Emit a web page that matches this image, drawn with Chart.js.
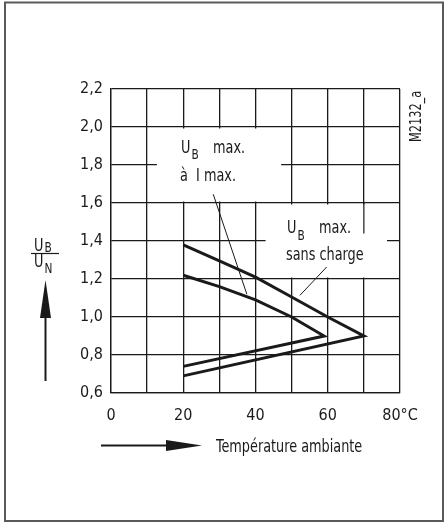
<!DOCTYPE html>
<html>
<head>
<meta charset="utf-8">
<script src="https://cdn.jsdelivr.net/npm/chart.js@4"></script>
<style>
  html, body { margin: 0; padding: 0; background: #fff; }
  canvas { display: block; }
</style>
</head>
<body>
<canvas id="chart" width="444" height="522"></canvas>
<script>
// UB/UN vs ambient temperature
const FONT = "'DejaVu Sans Condensed', 'DejaVu Sans', sans-serif";
const INK = "#1a1a1a";
const SQUEEZE = 0.84; // the original uses a condensed face, narrower than anything installed

// series: U_B max sans charge (outer) and U_B max à I max (inner)
const sansChargeTemp = [20, 30, 40, 50, 60, 70, 20];
const sansChargeRatio = [1.38, 1.295, 1.21, 1.105, 1.0, 0.9, 0.69];
const iMaxTemp = [20, 30, 40, 50, 59, 20];
const iMaxRatio = [1.22, 1.16, 1.09, 1.0, 0.9, 0.74];

// leader lines from the labels to the curves
const leaderIMaxTemp = [28.3, 37.6];
const leaderIMaxRatio = [1.646, 1.12];
const leaderSansTemp = [59.7, 52.3];
const leaderSansRatio = [1.263, 1.114];

// tick labels
const xTickLabels = { 0: "0", 20: "20", 40: "40", 60: "60", 80: "80°C" };
const yTicks = [0.6, 0.8, 1.0, 1.2, 1.4, 1.6, 1.8, 2.0, 2.2];

const pts = (xs, ys) => xs.map((x, i) => ({ x, y: ys[i] }));

function lineSet(xs, ys, width) {
  return {
    data: pts(xs, ys),
    showLine: true,
    borderColor: INK,
    borderWidth: width,
    pointRadius: 0,
    fill: false,
    tension: 0,
    borderJoinStyle: "miter"
  };
}

// white boxes behind the two labels (cut the grid), then redraw the short grid stub
const labelBoxes = {
  id: "labelBoxes",
  beforeDatasetsDraw(chart) {
    const { ctx, scales: { x, y } } = chart;
    ctx.save();
    ctx.fillStyle = "#fff";
    const box = (x0, x1, y0, y1) => {
      const l = x.getPixelForValue(x0), r = x.getPixelForValue(x1);
      const t = y.getPixelForValue(y1) + 1.5, b = y.getPixelForValue(y0) - 1.5;
      ctx.fillRect(l, t, r - l, b - t);
    };
    box(12.7, 47.1, 1.6, 2.0);
    box(42.8, 76.4, 1.2, 1.6);
    ctx.strokeStyle = INK;
    ctx.lineWidth = 1.2;
    ctx.beginPath();
    const gx = x.getPixelForValue(70);
    ctx.moveTo(gx, y.getPixelForValue(1.6));
    ctx.lineTo(gx, y.getPixelForValue(1.44));
    ctx.stroke();
    ctx.restore();
  }
};

// condensed text helper, returns drawn width
function txt(ctx, s, x, y, size) {
  ctx.save();
  ctx.font = size + "px " + FONT;
  const w = ctx.measureText(s).width * SQUEEZE;
  ctx.translate(x, y);
  ctx.scale(SQUEEZE, 1);
  ctx.fillText(s, 0, 0);
  ctx.restore();
  return w;
}

function subLabel(ctx, x, y, sub, subDrop, rest) {
  const w = txt(ctx, "U", x, y, 17);
  txt(ctx, sub, x + w + 1, y + subDrop, 14);
  if (rest) txt(ctx, rest, x + 32, y, 17);
}

const decorations = {
  id: "decorations",
  afterDraw(chart) {
    const { ctx } = chart;
    ctx.save();
    ctx.fillStyle = INK;
    ctx.strokeStyle = INK;
    ctx.textBaseline = "alphabetic";
    ctx.textAlign = "left";

    // curve labels
    subLabel(ctx, 181, 153, "B", 6, "max.");
    txt(ctx, "à  I max.", 180, 181, 17);
    subLabel(ctx, 287, 233, "B", 7, "max.");
    txt(ctx, "sans charge", 286, 260, 17);

    // drawing reference
    ctx.save();
    ctx.translate(421, 142);
    ctx.rotate(-Math.PI / 2);
    txt(ctx, "M2132_a", 0, 0, 15);
    ctx.restore();

    // y title: U_B / U_N
    subLabel(ctx, 34, 251, "B", 1);
    ctx.lineWidth = 1.2;
    ctx.beginPath();
    ctx.moveTo(31, 253.5);
    ctx.lineTo(59, 253.5);
    ctx.stroke();
    subLabel(ctx, 34, 267, "N", 6);

    // up arrow
    ctx.lineWidth = 2;
    ctx.beginPath();
    ctx.moveTo(45.5, 381);
    ctx.lineTo(45.5, 305);
    ctx.stroke();
    ctx.beginPath();
    ctx.moveTo(45.5, 280);
    ctx.lineTo(51, 318);
    ctx.lineTo(40, 318);
    ctx.closePath();
    ctx.fill();

    // right arrow + x title
    ctx.beginPath();
    ctx.moveTo(101, 445.5);
    ctx.lineTo(175, 445.5);
    ctx.stroke();
    ctx.beginPath();
    ctx.moveTo(202, 445.5);
    ctx.lineTo(166, 440);
    ctx.lineTo(166, 451);
    ctx.closePath();
    ctx.fill();
    txt(ctx, "Température ambiante", 216, 451.5, 17);

    // outer frame
    ctx.strokeStyle = "#5a5a5a";
    ctx.lineWidth = 2;
    ctx.strokeRect(5, 2.5, 438, 518.5);
    ctx.restore();
  }
};

new Chart(document.getElementById("chart"), {
  type: "scatter",
  data: {
    datasets: [
      lineSet(sansChargeTemp, sansChargeRatio, 3),
      lineSet(iMaxTemp, iMaxRatio, 3),
      lineSet(leaderIMaxTemp, leaderIMaxRatio, 1),
      lineSet(leaderSansTemp, leaderSansRatio, 1)
    ]
  },
  options: {
    responsive: false,
    animation: false,
    layout: { padding: { top: 89, right: 44, bottom: 0, left: 0 } },
    plugins: { legend: { display: false }, tooltip: { enabled: false } },
    scales: {
      x: {
        type: "linear",
        min: 0,
        max: 80,
        afterFit: s => { s.height = 129; },
        ticks: {
          stepSize: 10,
          autoSkip: false,
          maxRotation: 0,
          padding: 13,
          color: INK,
          font: { family: FONT, size: 16 },
          callback: v => xTickLabels[v] ?? ""
        },
        grid: { color: INK, lineWidth: 1.3, drawTicks: false },
        border: { color: INK, width: 1.3 }
      },
      y: {
        min: yTicks[0],
        max: yTicks[yTicks.length - 1],
        afterFit: s => { s.width = 111; },
        ticks: {
          stepSize: 0.2,
          padding: 8,
          color: INK,
          font: { family: FONT, size: 16 },
          callback: v => v.toFixed(1).replace(".", ",")
        },
        grid: { color: INK, lineWidth: 1.3, drawTicks: false },
        border: { color: INK, width: 1.3 }
      }
    }
  },
  plugins: [labelBoxes, decorations]
});
</script>
</body>
</html>
